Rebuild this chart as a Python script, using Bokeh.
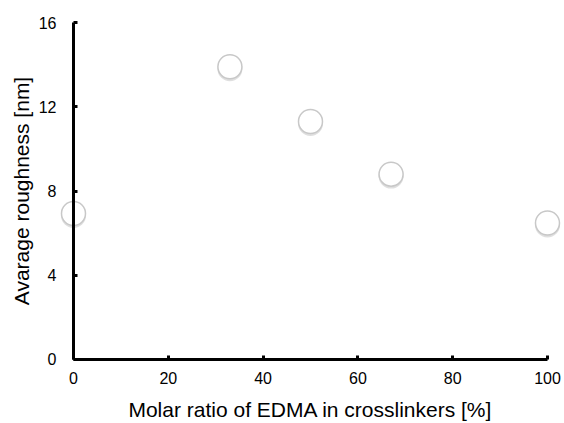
import math
from bokeh.plotting import figure
from bokeh.models import Range1d, FixedTicker, Label
from bokeh.embed import file_html
from bokeh.resources import INLINE

edma_ratio = [0, 33, 50, 67, 100]
roughness = [6.93, 13.9, 11.3, 8.8, 6.48]
x_ticks = [0, 20, 40, 60, 80, 100]
y_ticks = [0, 4, 8, 12, 16]
x_title = "Molar ratio of EDMA in crosslinkers [%]"
y_title = "Avarage roughness [nm]"

p = figure(width=564, height=423, output_backend="svg", toolbar_location=None,
           x_range=Range1d(-15.4, 103.59), y_range=Range1d(-3.039, 17.045),
           min_border_left=0, min_border_right=0, min_border_top=0, min_border_bottom=0)
p.outline_line_color = None
p.grid.grid_line_color = None
p.background_fill_color = "white"

shadow_y = [v - 0.09 for v in roughness]
p.scatter(edma_ratio, shadow_y, size=25, fill_color="#b8b8b8", fill_alpha=0.45, line_color=None)
p.scatter(edma_ratio, roughness, size=24, fill_color="white", line_color="#c8c8c8", line_width=1.5)

for ax in (p.xaxis[0], p.yaxis[0]):
    ax.axis_line_width = 3
    ax.axis_line_color = "black"
    ax.major_tick_line_width = 3
    ax.major_tick_in = 4
    ax.major_tick_out = 0
    ax.minor_tick_line_color = None
    ax.major_label_text_font = "Liberation Sans"
    ax.major_label_text_font_size = "16px"
    ax.major_label_text_color = "black"

p.xaxis.ticker = FixedTicker(ticks=x_ticks)
p.yaxis.ticker = FixedTicker(ticks=y_ticks)
p.xaxis.bounds = (x_ticks[0], x_ticks[-1])
p.yaxis.bounds = (y_ticks[0], y_ticks[-1])
p.xaxis.fixed_location = 0
p.yaxis.fixed_location = 0
p.xaxis.major_label_standoff = 13
p.yaxis.major_label_standoff = 17

mid_x = (x_ticks[0] + x_ticks[-1]) / 2
mid_y = (y_ticks[0] + y_ticks[-1]) / 2
p.add_layout(Label(x=mid_x, y=0, y_offset=-50, text=x_title, text_align="center",
                   text_baseline="alphabetic", text_font="Liberation Sans",
                   text_font_size="21px", text_color="black"))
p.add_layout(Label(x=0, y=mid_y, x_offset=-52, text=y_title, angle=math.pi / 2,
                   text_align="center", text_baseline="middle", text_font="Liberation Sans",
                   text_font_size="21px", text_color="black"))

open("out.html", "w").write(file_html(p, INLINE))
